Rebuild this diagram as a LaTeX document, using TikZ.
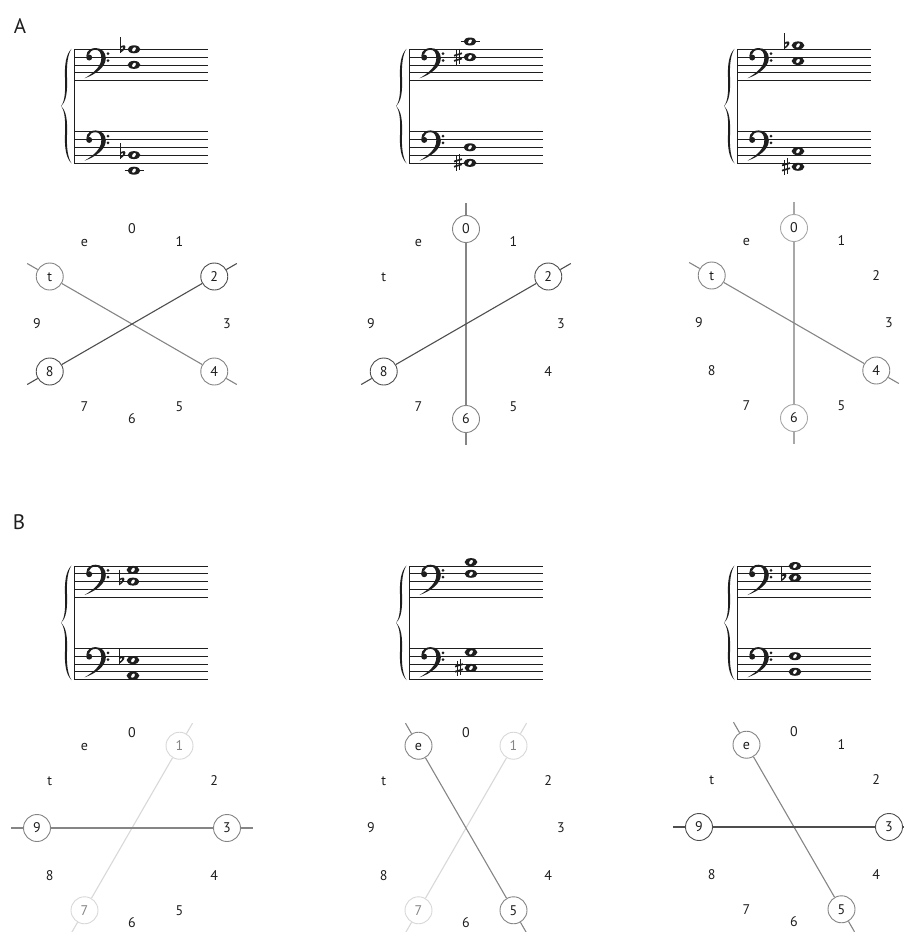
\documentclass[tikz,border=0pt]{standalone}
\usepackage{fontspec}
\setmainfont{PT Sans}
\usepackage{tikz}
\usetikzlibrary{calc}
\definecolor{ink}{HTML}{1E1E1E}
\definecolor{darkline}{HTML}{4E4E4E}
\definecolor{midline}{HTML}{858585}
\definecolor{lightline}{HTML}{A8A8A8}
\definecolor{paleline}{HTML}{D8D8D8}
\newcommand{\clockr}{95}
\newcommand{\tailr}{121}

\begin{document}
\begin{tikzpicture}[x=1pt, y=-1pt,
  pc/.style={font=\fontsize{14}{16}\selectfont, text=ink, inner sep=0pt,
             text height=9.8pt, text depth=0pt},
  ring/.style={pc, circle, draw=#1, fill=white, line width=0.9pt,
               minimum size=27pt},
  chord/.style={draw=#1, line width=1.1pt},
  tag/.style={font=\fontsize{21}{24}\selectfont, text=ink, inner sep=0pt},
  staff/.style={draw=ink, line width=0.8pt},
  fclef/.pic={
    \fill[ink] (15.2,8.2) circle (3);
    \fill[ink] (12.3,7) .. controls (12.3,0.5) and (18,-1.3) .. (21.5,-1.3)
      .. controls (28,-1.3) and (31.8,3) .. (31.8,9)
      .. controls (31.8,17.5) and (22,25) .. (10.5,29)
      .. controls (20,23.5) and (27.3,17) .. (27.3,9)
      .. controls (27.3,3) and (25,0.5) .. (21.5,0.5)
      .. controls (18,0.5) and (15.5,2.5) .. (15,5) -- cycle;
    \fill[ink] (34,4.4) circle (1.5) (34,11.2) circle (1.5);
  },
  grand/.pic={
    \foreach \i in {0,...,4} {
      \draw[staff] (0,7.8*\i) -- (134,7.8*\i);
      \draw[staff] (0,82.4+7.8*\i) -- (134,82.4+7.8*\i);
    }
    \draw[staff] (0,0) -- (0,113.6);
    \foreach \f in {1,-1}
      \fill[ink, shift={(0,56.8)}, yscale=\f] (-2.5,-57.3)
        .. controls (-8,-51.8) and (-9.5,-41.8) .. (-9,-28.8)
        .. controls (-8.5,-14.8) and (-9,-4.8) .. (-13,0)
        .. controls (-7.5,-4.8) and (-6.5,-14.8) .. (-7,-28.8)
        .. controls (-7.5,-42.8) and (-6,-51.8) .. (-2.5,-57.3) -- cycle;
    \pic at (0,0) {fclef};
    \pic at (0,82.4) {fclef};
  },
  wn/.pic={
    \fill[ink] (0,0) ellipse [x radius=6.4, y radius=4];
    \fill[white, rotate=55] (0,0) ellipse [x radius=2.4, y radius=1.5];
  },
  flat/.pic={
    \draw[ink, line width=0.8pt] (-2,-12) -- (-2,3.8);
    \fill[ink] (-2,3.8) .. controls (2.8,1) and (5,-2.8) .. (2.4,-4)
      .. controls (0.8,-4.6) and (-1,-3.2) .. (-2,-2) -- (-2,-0.3)
      .. controls (-0.8,-1.8) and (0.6,-2.5) .. (1.2,-1.9)
      .. controls (1.8,-1.2) and (0.3,0.8) .. (-2,2.2) -- cycle;
  },
  sharp/.pic={
    \draw[ink, line width=0.7pt] (-1.8,-7) -- (-1.8,8.5) (1.8,-8.5) -- (1.8,7);
    \draw[ink, line width=1.7pt] (-4,-1.4) -- (4,-3.8) (-4,3.8) -- (4,1.4);
  },
  ledger/.pic={\draw[staff] (-9.5,0) -- (9.5,0);}
]
\useasboundingbox (0,0) rectangle (904,932);

% staves
\node[tag] (labA) at (20,26) {A};
\node[tag] (labB) at (19,522) {B};
\foreach \x in {74,409,737} {
  \pic at (\x,49.3) {grand};
  \pic at (\x,566) {grand};
}
\foreach \x/\y in {134/170.7,470/41.5}
  \pic at (\x,\y) {ledger};
\foreach \x/\y in {134/49.3,134/64.9,134/155.1,134/170.7,
                   470/41.5,470/57.1,470/147.3,470/162.9,
                   798/45.4,798/61,798/151.2,798/166.8,
                   133/569.9,133/581.6,133/660.1,133/675.7,
                   471/562.1,471/573.8,471/652.3,471/667.9,
                   795/566,795/577.7,795/656.2,795/671.8}
  \pic at (\x,\y) {wn};
\foreach \x/\y in {122/49.3,122/155.1,786/45.4,
                   121/581.6,121/660.1,783/577.7}
  \pic at (\x,\y) {flat};
\foreach \x/\y in {458/57.1,458/162.9,786/166.8,459/667.9}
  \pic at (\x,\y) {sharp};

% A, left clock
\coordinate (a1) at (132,324);
\foreach \k/\lbl in {0/0,1/1,3/3,5/5,6/6,7/7,9/9,11/e}
  \node[pc] (a1-\k) at ($(a1)+(30*\k-90:\clockr)$) {\lbl};
\node[ring=darkline] (a1-2) at ($(a1)+(-30:\clockr)$) {2};
\node[ring=darkline] (a1-8) at ($(a1)+(150:\clockr)$) {8};
\node[ring=midline] (a1-10) at ($(a1)+(210:\clockr)$) {t};
\node[ring=midline] (a1-4) at ($(a1)+(30:\clockr)$) {4};
\path ($(a1)+(-30:\tailr)$) coordinate (a1-2x) ($(a1)+(150:\tailr)$) coordinate (a1-8x)
      ($(a1)+(210:\tailr)$) coordinate (a1-10x) ($(a1)+(30:\tailr)$) coordinate (a1-4x);
\draw[chord=midline] (a1-10x) -- (a1-10) -- (a1-4) -- (a1-4x);
\draw[chord=darkline] (a1-8x) -- (a1-8) -- (a1-2) -- (a1-2x);

% A, middle clock
\coordinate (a2) at (466,324);
\foreach \k/\lbl in {1/1,3/3,4/4,5/5,7/7,9/9,10/t,11/e}
  \node[pc] (a2-\k) at ($(a2)+(30*\k-90:\clockr)$) {\lbl};
\node[ring=midline] (a2-0) at ($(a2)+(-90:\clockr)$) {0};
\node[ring=midline] (a2-6) at ($(a2)+(90:\clockr)$) {6};
\node[ring=darkline] (a2-2) at ($(a2)+(-30:\clockr)$) {2};
\node[ring=darkline] (a2-8) at ($(a2)+(150:\clockr)$) {8};
\path ($(a2)+(-90:\tailr)$) coordinate (a2-0x) ($(a2)+(90:\tailr)$) coordinate (a2-6x)
      ($(a2)+(-30:\tailr)$) coordinate (a2-2x) ($(a2)+(150:\tailr)$) coordinate (a2-8x);
\draw[chord=midline] (a2-0x) -- (a2-0) -- (a2-6) -- (a2-6x);
\draw[chord=darkline] (a2-8x) -- (a2-8) -- (a2-2) -- (a2-2x);

% A, right clock
\coordinate (a3) at (794,323);
\foreach \k/\lbl in {1/1,2/2,3/3,5/5,7/7,8/8,9/9,11/e}
  \node[pc] (a3-\k) at ($(a3)+(30*\k-90:\clockr)$) {\lbl};
\node[ring=lightline] (a3-0) at ($(a3)+(-90:\clockr)$) {0};
\node[ring=lightline] (a3-6) at ($(a3)+(90:\clockr)$) {6};
\node[ring=midline] (a3-10) at ($(a3)+(210:\clockr)$) {t};
\node[ring=midline] (a3-4) at ($(a3)+(30:\clockr)$) {4};
\path ($(a3)+(-90:\tailr)$) coordinate (a3-0x) ($(a3)+(90:\tailr)$) coordinate (a3-6x)
      ($(a3)+(210:\tailr)$) coordinate (a3-10x) ($(a3)+(30:\tailr)$) coordinate (a3-4x);
\draw[chord=lightline] (a3-0x) -- (a3-0) -- (a3-6) -- (a3-6x);
\draw[chord=midline] (a3-10x) -- (a3-10) -- (a3-4) -- (a3-4x);

% B, left clock
\coordinate (b1) at (132,828);
\foreach \k/\lbl in {0/0,2/2,4/4,5/5,6/6,8/8,10/t,11/e}
  \node[pc] (b1-\k) at ($(b1)+(30*\k-90:\clockr)$) {\lbl};
\node[ring=midline] (b1-9) at ($(b1)+(180:\clockr)$) {9};
\node[ring=midline] (b1-3) at ($(b1)+(0:\clockr)$) {3};
\node[ring=paleline, text=midline] (b1-1) at ($(b1)+(-60:\clockr)$) {1};
\node[ring=paleline, text=midline] (b1-7) at ($(b1)+(120:\clockr)$) {7};
\path ($(b1)+(180:\tailr)$) coordinate (b1-9x) ($(b1)+(0:\tailr)$) coordinate (b1-3x)
      ($(b1)+(-60:\tailr)$) coordinate (b1-1x) ($(b1)+(120:\tailr)$) coordinate (b1-7x);
\draw[chord=paleline] (b1-1x) -- (b1-1) -- (b1-7) -- (b1-7x);
\draw[chord=midline] (b1-9x) -- (b1-9) -- (b1-3) -- (b1-3x);

% B, middle clock
\coordinate (b2) at (466,828);
\foreach \k/\lbl in {0/0,2/2,3/3,4/4,6/6,8/8,9/9,10/t}
  \node[pc] (b2-\k) at ($(b2)+(30*\k-90:\clockr)$) {\lbl};
\node[ring=midline] (b2-11) at ($(b2)+(240:\clockr)$) {e};
\node[ring=midline] (b2-5) at ($(b2)+(60:\clockr)$) {5};
\node[ring=paleline, text=midline] (b2-1) at ($(b2)+(-60:\clockr)$) {1};
\node[ring=paleline, text=midline] (b2-7) at ($(b2)+(120:\clockr)$) {7};
\path ($(b2)+(240:\tailr)$) coordinate (b2-11x) ($(b2)+(60:\tailr)$) coordinate (b2-5x)
      ($(b2)+(-60:\tailr)$) coordinate (b2-1x) ($(b2)+(120:\tailr)$) coordinate (b2-7x);
\draw[chord=paleline] (b2-1x) -- (b2-1) -- (b2-7) -- (b2-7x);
\draw[chord=midline] (b2-11x) -- (b2-11) -- (b2-5) -- (b2-5x);

% B, right clock
\coordinate (b3) at (794,827);
\foreach \k/\lbl in {0/0,1/1,2/2,4/4,6/6,7/7,8/8,10/t}
  \node[pc] (b3-\k) at ($(b3)+(30*\k-90:\clockr)$) {\lbl};
\node[ring=darkline] (b3-9) at ($(b3)+(180:\clockr)$) {9};
\node[ring=darkline] (b3-3) at ($(b3)+(0:\clockr)$) {3};
\node[ring=midline] (b3-11) at ($(b3)+(240:\clockr)$) {e};
\node[ring=midline] (b3-5) at ($(b3)+(60:\clockr)$) {5};
\path ($(b3)+(180:\tailr)$) coordinate (b3-9x) ($(b3)+(0:\tailr)$) coordinate (b3-3x)
      ($(b3)+(240:\tailr)$) coordinate (b3-11x) ($(b3)+(60:\tailr)$) coordinate (b3-5x);
\draw[chord=midline] (b3-11x) -- (b3-11) -- (b3-5) -- (b3-5x);
\draw[chord=darkline] (b3-9x) -- (b3-9) -- (b3-3) -- (b3-3x);
\end{tikzpicture}
\end{document}
